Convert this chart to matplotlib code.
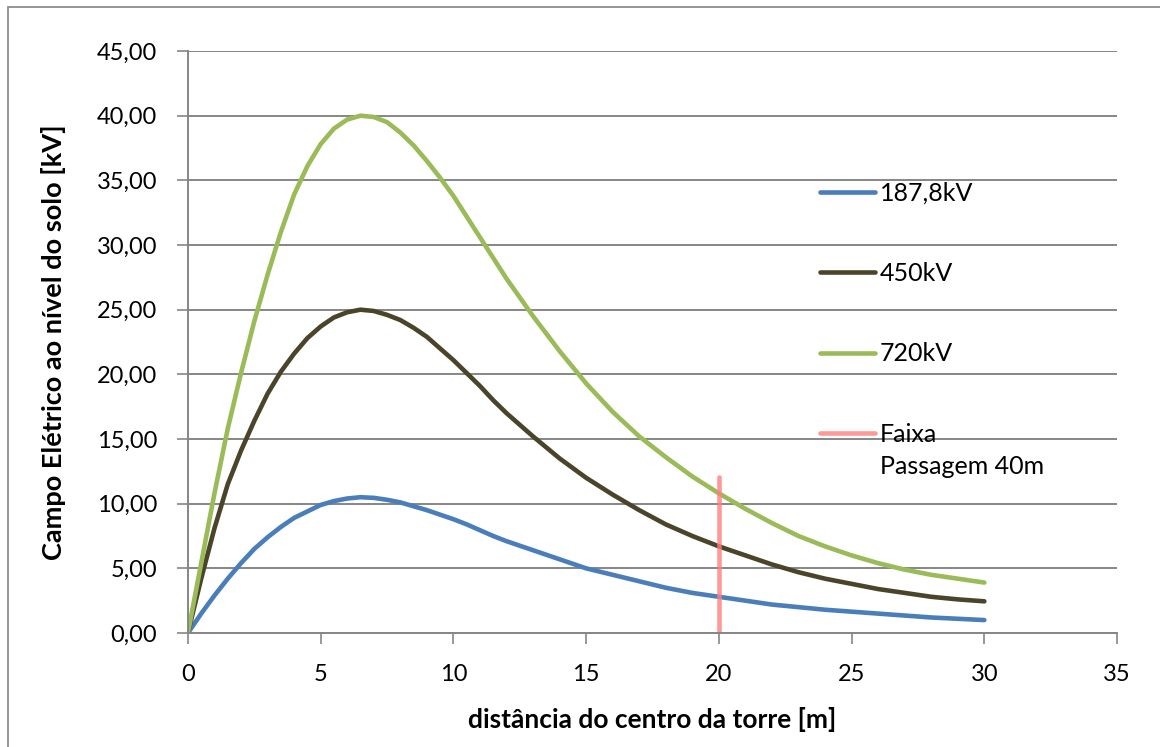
import numpy as np
import matplotlib.pyplot as plt
from matplotlib.patches import Rectangle
from matplotlib.ticker import FuncFormatter

# distance from tower centre [m]; half-metre steps where the curves bend most
dist = np.concatenate([np.arange(0, 12, 0.5), np.arange(12, 31)])

# ground-level electric field [kV]
e_187 = [0, 1.5, 2.9, 4.2, 5.4, 6.5, 7.4, 8.2, 8.9, 9.4, 9.9, 10.2,
         10.4, 10.5, 10.45, 10.3, 10.1, 9.8, 9.5, 9.15, 8.8, 8.4, 7.95, 7.5,
         7.1, 6.4, 5.7, 5.0, 4.5, 4.0, 3.5, 3.1, 2.8,
         2.5, 2.2, 2.0, 1.8, 1.65, 1.5, 1.35, 1.2, 1.1, 1.0]
e_450 = [0, 4.2, 8.1, 11.5, 14.1, 16.4, 18.5, 20.2, 21.6, 22.8, 23.7, 24.4,
         24.8, 25.0, 24.9, 24.6, 24.2, 23.6, 22.9, 22.0, 21.1, 20.1, 19.1, 18.0,
         17.0, 15.2, 13.5, 12.0, 10.7, 9.5, 8.4, 7.5, 6.7,
         6.0, 5.3, 4.7, 4.2, 3.8, 3.4, 3.1, 2.8, 2.6, 2.45]
e_720 = [0, 5.4, 10.8, 15.8, 20.1, 24.1, 27.7, 31.0, 33.9, 36.1, 37.8, 39.0,
         39.7, 40.0, 39.9, 39.5, 38.7, 37.7, 36.5, 35.2, 33.8, 32.2, 30.6, 29.0,
         27.4, 24.5, 21.8, 19.3, 17.1, 15.2, 13.6, 12.1, 10.8,
         9.6, 8.5, 7.5, 6.7, 6.0, 5.4, 4.9, 4.5, 4.2, 3.9]

# right-of-way limit (40 m strip -> 20 m from centre)
faixa_x = [20, 20]
faixa_y = [0, 12.1]

plt.rcParams['font.family'] = ['Lato', 'DejaVu Sans']

fig = plt.figure(figsize=(11.6, 7.47), dpi=100)
# chart-area border (open to the right and bottom, as in the source)
fig.patches.append(Rectangle((8 / 1160, -0.05), 1.2, 1.05 - 7 / 747, transform=fig.transFigure,
                             fill=False, ec='#8c8c8c', lw=1.3, clip_on=False))
ax = fig.add_axes([0.162, 0.1526, 0.801, 0.7791])

lw = 3.3
ax.plot(dist, e_187, color='#4A7EBB', lw=lw, label='187,8kV', solid_capstyle='round')
ax.plot(dist, e_450, color='#4A452A', lw=lw, label='450kV', solid_capstyle='round')
ax.plot(dist, e_720, color='#9BBB59', lw=lw, label='720kV', solid_capstyle='round')
ax.plot(faixa_x, faixa_y, color='#FF8080', alpha=0.8, lw=lw,
        label='Faixa', solid_capstyle='round')

ax.set_xlim(0, 35)
ax.set_ylim(0, 45)
ax.set_xticks(range(0, 36, 5))
ax.set_yticks(np.arange(0, 46, 5))
ax.yaxis.set_major_formatter(FuncFormatter(lambda v, p: f'{v:.2f}'.replace('.', ',')))
ax.grid(axis='y', color='#868686', lw=1.4)
ax.set_axisbelow(True)
for s in ['top', 'right']:
    ax.spines[s].set_visible(False)
for s in ['left', 'bottom']:
    ax.spines[s].set_color('#868686')
    ax.spines[s].set_linewidth(1.4)
ax.tick_params(axis='both', colors='#868686', labelcolor='black', labelsize=17,
               length=8, width=1.2)
ax.tick_params(axis='y', pad=14)
ax.tick_params(axis='x', pad=14)

ax.set_xlabel('distância do centro da torre [m]', fontsize=19, fontweight='bold', labelpad=16)
ax.set_ylabel('Campo Elétrico ao nível do solo [kV]', fontsize=19.5, fontweight='bold', labelpad=22)

leg = ax.legend(loc='upper left', bbox_to_anchor=(0.68, 0.776), frameon=False, fontsize=18,
                handlelength=2.2, handletextpad=0.2, labelspacing=2.3,
                borderpad=0, borderaxespad=0)

# second line of the last legend entry, placed under "Faixa"
fig.canvas.draw()
bb = leg.get_texts()[-1].get_window_extent().transformed(ax.transAxes.inverted())
ax.text(bb.x0, bb.y0 - 0.015, 'Passagem 40m', transform=ax.transAxes, fontsize=18,
        va='top', ha='left')

fig.savefig('out.png', dpi=100)
